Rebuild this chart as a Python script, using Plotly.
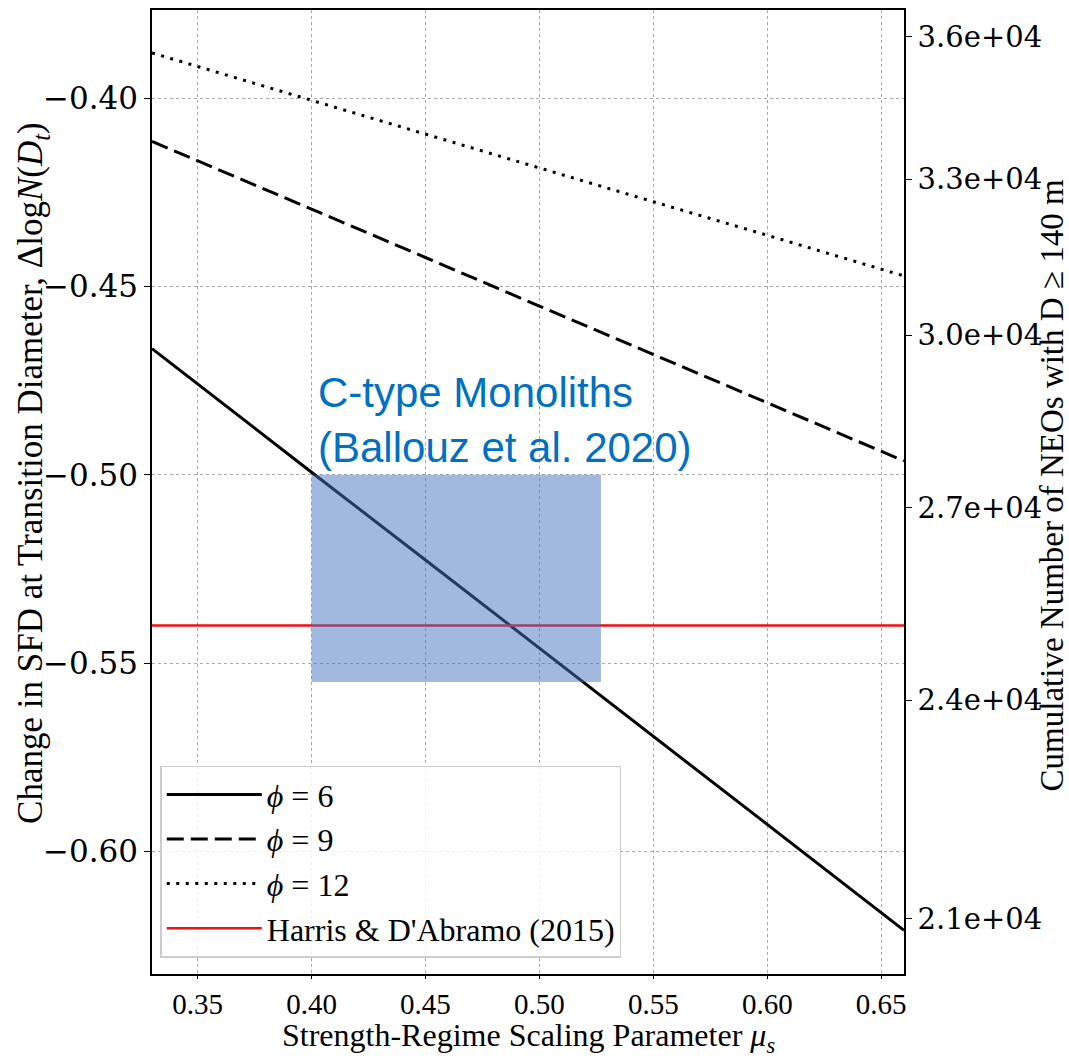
import plotly.graph_objects as go

# ---- data ----
mu = [0.33, 0.35, 0.40, 0.45, 0.50, 0.55, 0.60, 0.65, 0.66]
phi6 = [-0.4665, -0.4759, -0.4993, -0.5226, -0.5460, -0.5694, -0.5928, -0.6162, -0.6209]
phi9 = [-0.4115, -0.4166, -0.4295, -0.4423, -0.4552, -0.4680, -0.4809, -0.4937, -0.4963]
phi12 = [-0.3880, -0.3916, -0.4006, -0.4095, -0.4185, -0.4275, -0.4364, -0.4454, -0.4472]
harris_value = -0.54
harris_x = [0.33, 0.66]

box_mu = [0.40, 0.527]
box_dlog = [-0.555, -0.50]
box_label = "C-type Monoliths<br>(Ballouz et al. 2020)"

x_ticks = [0.35, 0.40, 0.45, 0.50, 0.55, 0.60, 0.65]
x_ticktext = ["0.35", "0.40", "0.45", "0.50", "0.55", "0.60", "0.65"]
y_ticks = [-0.40, -0.45, -0.50, -0.55, -0.60]
y_ticktext = ["\u22120.40", "\u22120.45", "\u22120.50", "\u22120.55", "\u22120.60"]
n_ticks = [21000, 24000, 27000, 30000, 33000, 36000]
n_ticktext = ["2.1e+04", "2.4e+04", "2.7e+04", "3.0e+04", "3.3e+04", "3.6e+04"]
log_offset = 4.94  # log10(N) = dlogN + offset

x_title = "Strength-Regime Scaling Parameter <i>\u03bc<sub>s</sub></i>"
y_title = "Change in SFD at Transition Diameter, \u0394log<i>N</i>(<i>D<sub>t</sub></i>)"
y2_title = "Cumulative Number of NEOs with D \u2265 140 m"

x_range = [0.33, 0.66]
y_range = [-0.6325, -0.3766]

serif = "Liberation Serif"
tickfont = "DejaVu Serif"

fig = go.Figure()
fig.add_trace(go.Scatter(x=mu, y=phi6, mode="lines", name="<i>\u03d5</i> = 6",
                         line=dict(color="black", width=3)))
fig.add_trace(go.Scatter(x=mu, y=phi9, mode="lines", name="<i>\u03d5</i> = 9",
                         line=dict(color="black", width=3, dash="17px,7px")))
fig.add_trace(go.Scatter(x=mu, y=phi12, mode="lines", name="<i>\u03d5</i> = 12",
                         line=dict(color="black", width=3, dash="3px,6.5px")))
fig.add_trace(go.Scatter(x=harris_x, y=[harris_value, harris_value], mode="lines",
                         name="Harris & D'Abramo (2015)",
                         line=dict(color="#f01010", width=2.5)))
fig.add_trace(go.Scatter(x=[], y=[], yaxis="y2", showlegend=False, hoverinfo="skip"))

fig.add_shape(type="rect", xref="x", yref="y",
              x0=box_mu[0], x1=box_mu[1], y0=box_dlog[0], y1=box_dlog[1],
              fillcolor="rgba(68,114,196,0.5)", line=dict(width=0), layer="above")

fig.add_annotation(x=box_mu[0], y=box_dlog[1], xref="x", yref="y",
                   text=box_label, showarrow=False, xanchor="left", yanchor="bottom",
                   align="left", xshift=4, yshift=2,
                   font=dict(family="Liberation Sans", size=42, color="#0070C0"))

# axis titles as paper annotations
fig.add_annotation(x=0.5, y=-0.0655, xref="paper", yref="paper", text=x_title,
                   showarrow=False, xanchor="center", yanchor="middle",
                   font=dict(family=serif, size=32, color="black"))
fig.add_annotation(x=-0.158, y=0.52, xref="paper", yref="paper", text=y_title,
                   showarrow=False, xanchor="center", yanchor="middle", textangle=-90,
                   font=dict(family=serif, size=35, color="black"))
fig.add_annotation(x=1.197, y=0.507, xref="paper", yref="paper", text=y2_title,
                   showarrow=False, xanchor="center", yanchor="middle", textangle=-90,
                   font=dict(family=serif, size=33, color="black"))

axis_common = dict(showline=True, linecolor="black", linewidth=1.6, mirror=True,
                   ticks="outside", tickwidth=1.2, tickcolor="black",
                   zeroline=False, automargin=False)

fig.update_layout(
    width=1069, height=1059,
    margin=dict(l=152, r=165, t=10, b=85),
    paper_bgcolor="white", plot_bgcolor="white",
    showlegend=True,
    xaxis=dict(range=x_range, tickvals=x_ticks, ticktext=x_ticktext,
               showgrid=True, gridcolor="#a8a8a8", griddash="dot", gridwidth=1,
               tickfont=dict(family=serif, size=29, color="black"), ticklen=3,
               **axis_common),
    yaxis=dict(range=y_range, tickvals=y_ticks, ticktext=y_ticktext,
               showgrid=True, gridcolor="#a8a8a8", griddash="dot", gridwidth=1,
               tickfont=dict(family=tickfont, size=31, color="black"), ticklen=6,
               **axis_common),
    yaxis2=dict(overlaying="y", side="right", type="log",
                range=[y_range[0] + log_offset, y_range[1] + log_offset],
                tickvals=n_ticks, ticktext=n_ticktext, showgrid=False,
                showline=True, linecolor="black", linewidth=1.6,
                ticks="outside", ticklen=6, tickwidth=1.2, tickcolor="black",
                tickfont=dict(family=tickfont, size=29, color="black"),
                zeroline=False, automargin=False),
    legend=dict(x=0.011, y=0.017, xanchor="left", yanchor="bottom",
                bgcolor="rgba(255,255,255,0.85)", bordercolor="#cccccc", borderwidth=1.5,
                font=dict(family=serif, size=32, color="black"),
                itemwidth=95),
)

fig.write_html("out.html")
